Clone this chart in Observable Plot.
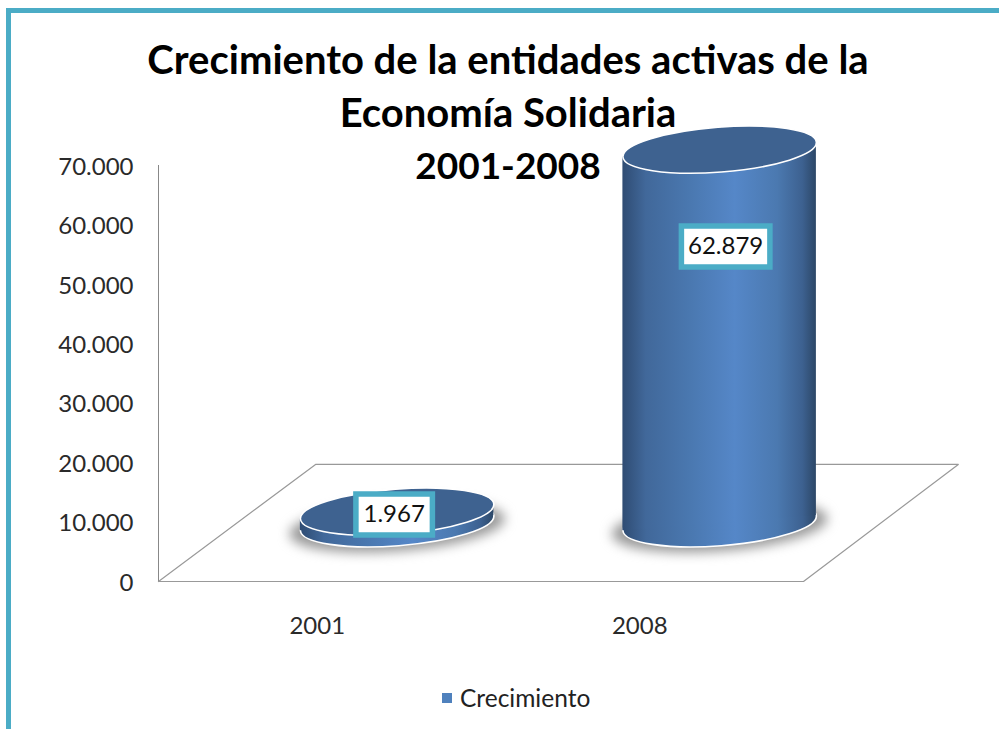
<!DOCTYPE html>
<html lang="es">
<head>
<meta charset="utf-8">
<script src="https://cdn.jsdelivr.net/npm/d3@7"></script>
<script src="https://cdn.jsdelivr.net/npm/@observablehq/plot@0.6"></script>
<style>
  html, body { margin: 0; padding: 0; background: #fff; }
  #page { position: relative; width: 999px; height: 729px; overflow: hidden; font-family: Lato, sans-serif; }
  #frame { position: absolute; left: 6px; top: 8px; right: 0; bottom: 0; border-left: 5px solid #4bacc6; border-top: 5px solid #4bacc6; }
  #title { position: absolute; left: 58px; width: 900px; top: 33px; text-align: center; font-weight: 700; font-size: 40px; line-height: 52.5px; color: #000; z-index: 2; }
  #title span { font-size: 37px; }
  #legend { position: absolute; left: 442px; top: 683px; display: flex; align-items: center; gap: 8px; font-size: 24.5px; color: #222; z-index: 2; }
  #legend i { display: block; width: 10px; height: 10px; background: #4f81bd; }
  svg { display: block; position: absolute; left: 0; top: 0; }
</style>
</head>
<body>
<div id="page">
  <div id="frame"></div>
  <div id="chart"></div>
  <div id="title">Crecimiento de la entidades activas de la<br>Economía Solidaria<br><span>2001-2008</span></div>
  <div id="legend"><i></i><span>Crecimiento</span></div>
</div>
<script>
const years = ["2001", "2008"];
const values = [1967, 62879];
const yTicks = [0, 10000, 20000, 30000, 40000, 50000, 60000, 70000];
const xSlots = [0.5, 1.5];
const floorX = [0, 0.487, 2.48, 2, 0];
const floorY = [0, 19700, 19700, 0, 0];

// pseudo-3D depth: bars stand halfway back on the floor
const depthX = 0.24, depthY = 9800, halfWidth = 0.3, lean = 1262;
const fmt = v => d3.format(",")(v).replace(/,/g, ".");
const bars = years.map((year, i) => ({
  year, value: values[i], x: xSlots[i] + depthX, base: depthY, top: depthY + values[i]
}));
const body = bars.flatMap(b => [
  {year: b.year, x: b.x - halfWidth, y1: b.base - lean, y2: b.top - lean},
  {year: b.year, x: b.x + halfWidth, y1: b.base + lean, y2: b.top + lean}
]);

// tilted ellipse as a custom Plot symbol
function ellipse(a, b, deg) {
  const t = deg * Math.PI / 180, c = Math.cos(t), s = Math.sin(t), k = 0.5523;
  const P = (x, y) => [x * c - y * s, x * s + y * c];
  return {draw(p) {
    p.moveTo(...P(a, 0));
    p.bezierCurveTo(...P(a, k * b), ...P(k * a, b), ...P(0, b));
    p.bezierCurveTo(...P(-k * a, b), ...P(-a, k * b), ...P(-a, 0));
    p.bezierCurveTo(...P(-a, -k * b), ...P(-k * a, -b), ...P(0, -b));
    p.bezierCurveTo(...P(k * a, -b), ...P(a, -k * b), ...P(a, 0));
    p.closePath();
  }};
}
const box = (w, h) => ({draw(p) { p.rect(-w / 2, -h / 2, w, h); }});
const rim = ellipse(97, 22.5, -4.4);
const shade = ellipse(108, 25, -4.4);

function gradient() {
  const defs = d3.create("svg:defs");
  const g = defs.append("linearGradient").attr("id", "cyl").attr("x1", 0).attr("x2", 1).attr("y1", 0).attr("y2", 0);
  [[0, "#2f4c73"], [0.12, "#41689a"], [0.35, "#4a78b0"], [0.58, "#5587c8"], [0.8, "#4b79b0"], [0.93, "#3d6190"], [1, "#2c4767"]]
    .forEach(([o, c]) => g.append("stop").attr("offset", o).attr("stop-color", c));
  return defs.node();
}

function valueLabel(i, dx, dy, w) {
  const b = [bars[i]];
  return [
    Plot.dot(b, {x: "x", y: "top", dx, dy, symbol: box(w, 41), fill: "#fff", stroke: "#4bacc6", strokeWidth: 5.5}),
    Plot.text(b, {x: "x", y: "top", dx, dy, text: d => fmt(d.value), fontSize: 24, fill: "#111"})
  ];
}

const chart = Plot.plot({
  width: 999, height: 729,
  marginLeft: 158, marginRight: 196, marginTop: 165, marginBottom: 148,
  style: {fontFamily: "Lato, sans-serif", background: "transparent", overflow: "visible"},
  x: {domain: [0, 2], axis: null},
  y: {domain: [0, 70000], axis: null},
  marks: [
    gradient,
    Plot.ruleX([0], {y1: 0, y2: 70000, stroke: "#888", strokeWidth: 1}),
    Plot.line(floorX.map((x, i) => ({x, y: floorY[i]})), {x: "x", y: "y", stroke: "#999", strokeWidth: 1.2}),
    Plot.axisY({ticks: yTicks, tickFormat: fmt, tickSize: 0, tickPadding: 25, fontSize: 24, fill: "#2a2a2a", label: null, lineAnchor: "middle", dy: 1.5}),
    Plot.axisX({ticks: xSlots, tickFormat: (d, i) => years[i], tickSize: 0, tickPadding: 35, fontSize: 24, fill: "#2a2a2a", label: null, dx: -2.5}),
    Plot.dot(bars, {x: "x", y: "base", symbol: shade, fill: "#999", dy: 3, imageFilter: "blur(6px)"}),
    Plot.dot(bars, {x: "x", y: "base", symbol: rim, fill: "url(#cyl)", stroke: "#fff", strokeWidth: 1.6}),
    Plot.areaY(body, {x: "x", y1: "y1", y2: "y2", z: "year", fill: "url(#cyl)"}),
    Plot.dot(bars, {x: "x", y: "top", symbol: rim, fill: "#3e6290", stroke: "#fff", strokeWidth: 1.6}),
    ...valueLabel(0, -3, 3, 76.5),
    ...valueLabel(1, 6, 97, 88.5)
  ]
});
document.getElementById("chart").appendChild(chart);
</script>
</body>
</html>
